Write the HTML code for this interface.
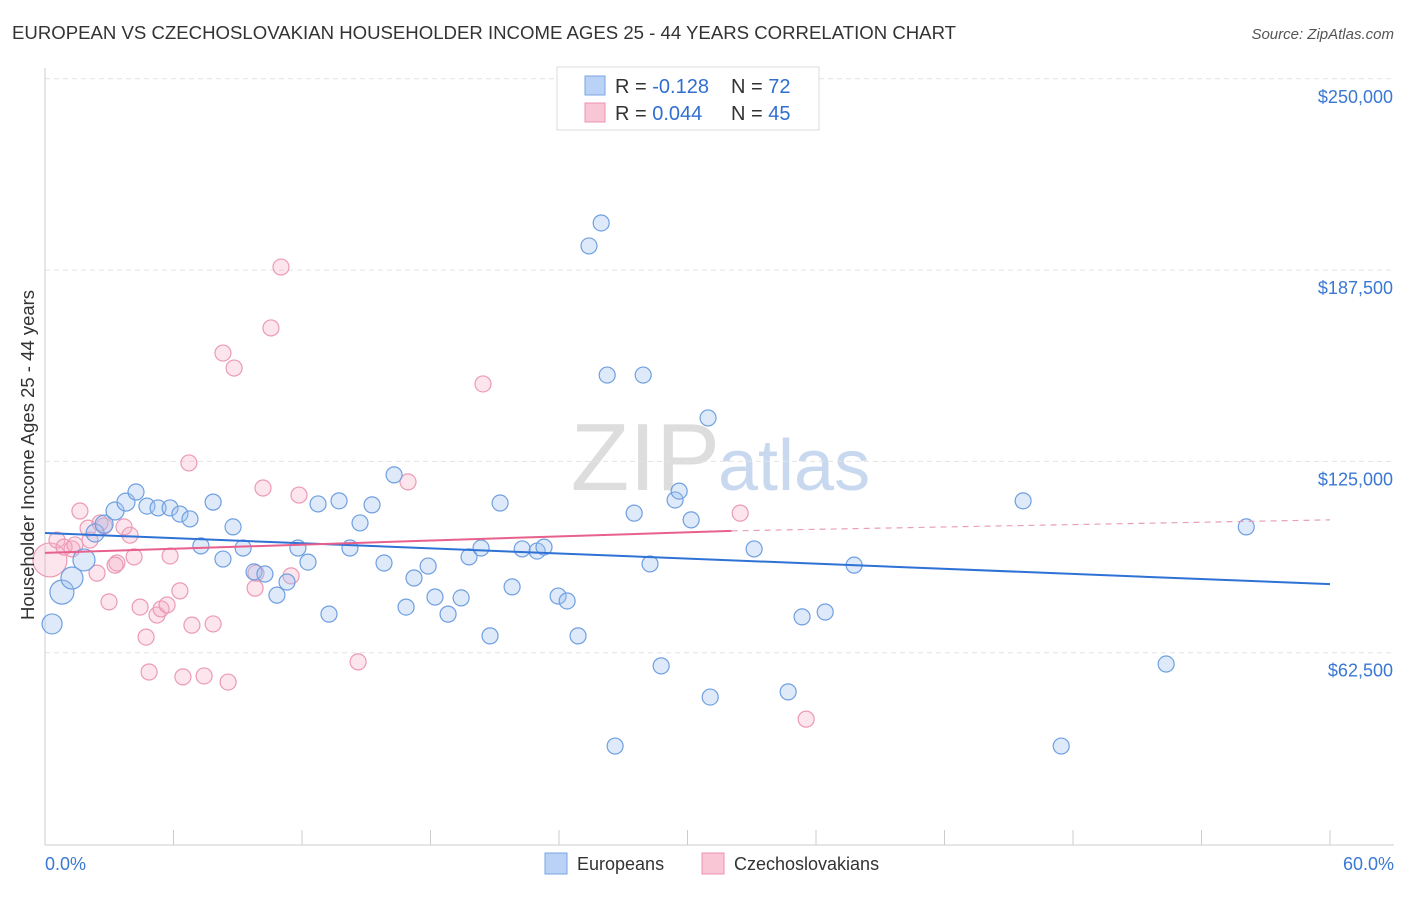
<!DOCTYPE html>
<html><head><meta charset="utf-8"><style>
body{margin:0;background:#fff;font-family:"Liberation Sans",sans-serif;}
svg text{font-family:"Liberation Sans",sans-serif;}
</style></head><body>
<svg id="chart" width="1406" height="892">
<text x="12" y="39" font-size="18.6" fill="#333">EUROPEAN VS CZECHOSLOVAKIAN HOUSEHOLDER INCOME AGES 25 - 44 YEARS CORRELATION CHART</text>
<text x="1394" y="39" font-size="15" fill="#555" font-style="italic" text-anchor="end">Source: ZipAtlas.com</text>
<text x="720" y="490" font-size="96" fill="#ddd" text-anchor="end" font-family="Liberation Serif">ZIP</text>
<text x="718" y="490" font-size="72" fill="#c8d9ef">atlas</text>
<g id="grid"></g><g id="axes"></g><g id="marks"></g>
<text transform="translate(34,455) rotate(-90)" font-size="18.5" fill="#333" text-anchor="middle">Householder Income Ages 25 - 44 years</text>
<g>
<rect x="557" y="67" width="262" height="63" fill="#fff" stroke="#ddd"/>
<rect x="585" y="76" width="20" height="19" fill="#b9d2f5" stroke="#7aa6e3"/>
<rect x="585" y="103" width="20" height="19" fill="#f9c6d5" stroke="#ee93b0"/>
<text x="615" y="93" font-size="20" fill="#333">R = <tspan fill="#2f6fd0">-0.128</tspan></text>
<text x="731" y="93" font-size="20" fill="#333">N = <tspan fill="#2f6fd0">72</tspan></text>
<text x="615" y="120" font-size="20" fill="#333">R = <tspan fill="#2f6fd0">0.044</tspan></text>
<text x="731" y="120" font-size="20" fill="#333">N = <tspan fill="#2f6fd0">45</tspan></text>
</g>
<g>
<rect x="545" y="853" width="22" height="21" fill="#b9d2f5" stroke="#7aa6e3"/>
<text x="577" y="870" font-size="18" fill="#333">Europeans</text>
<rect x="702" y="853" width="22" height="21" fill="#f9c6d5" stroke="#ee93b0"/>
<text x="734" y="870" font-size="18" fill="#333">Czechoslovakians</text>
</g>
</svg>
<script>
const yTicks=[62.5,125,187.5,250];
const yTickLabels=["$62,500","$125,000","$187,500","$250,000"];
const xTickLabels=["0.0%","60.0%"];
const euroX=[0.33,0.79,1.26,1.82,2.34,2.76,3.27,3.78,4.25,4.76,5.28,5.84,6.3,6.77,7.28,7.85,8.31,8.78,9.25,9.76,10.27,10.83,11.3,11.81,12.28,12.75,13.26,13.73,14.24,14.71,15.27,15.83,16.3,16.86,17.23,17.89,18.21,18.82,19.43,19.8,20.36,20.78,21.25,21.81,22.28,22.98,23.3,23.96,24.38,24.89,25.4,25.97,26.25,26.62,27.51,27.93,28.25,28.77,29.42,29.61,30.17,30.96,31.06,33.11,34.7,35.35,36.43,37.78,45.67,47.45,52.35,56.09];
const euroY=[71.9,82.3,86.9,92.8,101.6,104.5,108.8,111.7,115.0,110.4,109.8,109.8,107.8,106.2,97.4,111.7,93.1,103.6,96.7,88.9,88.2,81.3,85.6,96.7,92.1,111.1,75.1,112.1,96.7,104.9,110.8,91.8,120.6,77.4,86.9,90.8,80.7,75.1,80.4,93.8,96.7,68.0,111.4,84.0,96.4,95.7,97.0,81.0,79.4,68.0,195.4,202.9,153.2,32.0,108.1,153.2,91.5,58.2,112.4,115.3,105.9,139.2,48.0,96.4,49.7,74.2,75.8,91.1,112.1,32.0,58.8,103.6];
const euroR=[10,12,11,11,9,9,9,9,8,8,8,8,8,8,8,8,8,8,8,8,8,8,8,8,8,8,8,8,8,8,8,8,8,8,8,8,8,8,8,8,8,8,8,8,8,8,8,8,8,8,8,8,8,8,8,8,8,8,8,8,8,8,8,8,8,8,8,8,8,8,8,8];
const czX=[0.23,0.56,0.89,1.26,1.63,2.01,2.43,2.76,2.99,3.36,3.69,3.97,4.16,4.44,4.72,4.86,5.23,5.42,5.7,5.84,6.3,6.44,6.72,6.86,7.43,7.85,8.31,8.55,8.83,9.81,9.85,10.18,10.55,11.02,11.49,11.86,14.62,16.95,20.45,32.46,35.54,1.4,2.1,2.57,3.27];
const czY=[92.8,99.3,97.0,96.4,108.8,103.2,88.5,103.9,79.1,91.8,103.6,100.9,93.8,77.4,67.6,56.2,74.8,76.8,78.1,94.1,82.7,54.6,124.5,71.5,54.9,71.9,160.4,52.9,155.5,83.6,88.5,116.3,168.6,188.5,87.6,114.0,59.5,118.3,150.3,108.1,40.8,97.7,99.3,104.9,91.1];
const czR=[17,8,8,8,8,8,8,8,8,8,8,8,8,8,8,8,8,8,8,8,8,8,8,8,8,8,8,8,8,8,8,8,8,8,8,8,8,8,8,8,8,8,8,8,8];
const euroTrend=[101.6,84.9];
const czTrend=[95.1,102.3,105.9];
const czSolidEnd=32.06;
const X=v=>45+v/60*1285, Y=v=>844-v/62.5*191.3;
const NS="http://www.w3.org/2000/svg";
function mk(p,t,a){const e=document.createElementNS(NS,t);for(const k in a)e.setAttribute(k,a[k]);p.appendChild(e);return e;}
const grid=document.getElementById('grid'),axes=document.getElementById('axes'),marks=document.getElementById('marks');
yTicks.forEach((t,i)=>{
 const l=mk(grid,'line',{x1:45,x2:1394,y1:Y(t),y2:Y(t),stroke:'#e2e2e2','stroke-dasharray':'5,4'});
 
 
 const tx=mk(axes,'text',{x:1393,y:Y(t)+24,'font-size':18,fill:'#3a78d4','text-anchor':'end'});tx.textContent=yTickLabels[i];
 
 
});
mk(axes,'line',{x1:45,x2:45,y1:68,y2:845,stroke:'#ccc'});
mk(axes,'line',{x1:45,x2:1394,y1:845,y2:845,stroke:'#ccc'});
for(let i=0;i<=10;i++){const x=X(i*6);mk(axes,'line',{x1:x,x2:x,y1:830,y2:845,stroke:'#ccc'});}
xTickLabels.forEach((s,i)=>{const tx=mk(axes,'text',{x:i?1394:45,y:870,'font-size':18,fill:'#3a78d4','text-anchor':i?'end':'start'});tx.textContent=s;
 
 });
czX.forEach((x,i)=>{const c=mk(marks,'circle',{cx:X(x),cy:Y(czY[i]),r:czR[i],fill:'rgba(246,170,195,0.3)',stroke:'#eb9ab5','stroke-width':1.2});
 
 });
euroX.forEach((x,i)=>{const c=mk(marks,'circle',{cx:X(x),cy:Y(euroY[i]),r:euroR[i],fill:'rgba(160,195,240,0.35)',stroke:'#6f9fe0','stroke-width':1.2});
 
 });
const bl=mk(marks,'line',{x1:X(0),y1:Y(euroTrend[0]),x2:X(60),y2:Y(euroTrend[1]),stroke:'#2f72d6','stroke-width':2});


const pl=mk(marks,'line',{x1:X(0),y1:Y(czTrend[0]),x2:X(czSolidEnd),y2:Y(czTrend[1]),stroke:'#e8608c','stroke-width':2});


const pd=mk(marks,'line',{x1:X(czSolidEnd),y1:Y(czTrend[1]),x2:X(60),y2:Y(czTrend[2]),stroke:'#e8a0b8','stroke-width':1.2,'stroke-dasharray':'6,5'});


</script>
</body></html>
